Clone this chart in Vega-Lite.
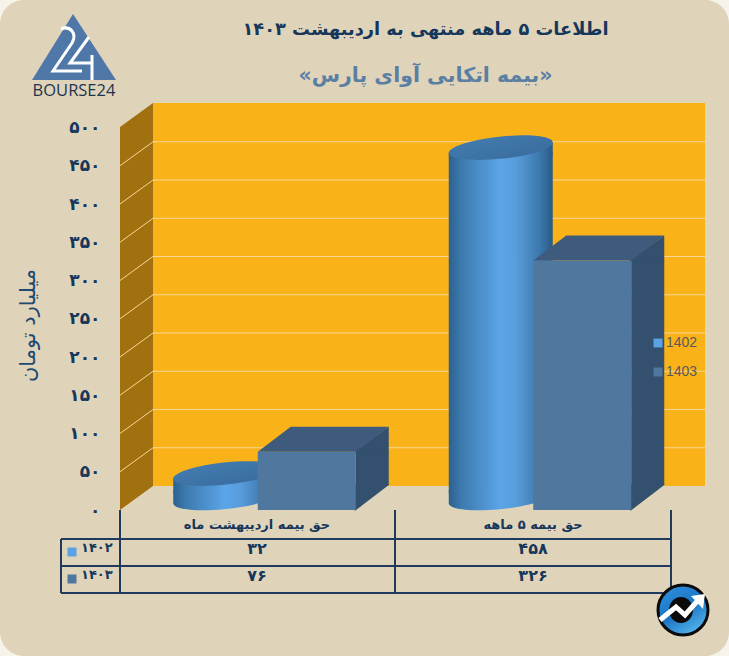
{
"$schema":"https://vega.github.io/schema/vega-lite/v6.json",
"width":729,"height":656,"padding":0,"autosize":{"type":"none"},
"background":"#f6f3ea",
"view":{"fill":"#dfd4ba","stroke":null,"cornerRadius":24},
"title":{"text":"اطلاعات ۵ ماهه منتهی به اردیبهشت ۱۴۰۳","subtitle":"\u200F«بیمه اتکایی آوای پارس»\u200F","anchor":"middle","dx":61,"dy":86,"offset":0,"font":"DejaVu Sans","fontSize":17.8,"fontWeight":"bold","color":"#16375a","subtitleFont":"DejaVu Sans","subtitleFontSize":20.5,"subtitleFontWeight":"bold","subtitleColor":"#5b7fa3","subtitlePadding":27},
"datasets":{
"bars":[
{"category":"حق بیمه اردیبهشت  ماه","series":"1402","value":32,"label":"۳۲"},
{"category":"حق بیمه ۵ ماهه","series":"1402","value":458,"label":"۴۵۸"},
{"category":"حق بیمه اردیبهشت  ماه","series":"1403","value":76,"label":"۷۶"},
{"category":"حق بیمه ۵ ماهه","series":"1403","value":326,"label":"۳۲۶"}],
"ticks":[{"tick":50},{"tick":100},{"tick":150},{"tick":200},{"tick":250},{"tick":300},{"tick":350},{"tick":400},{"tick":450}],
"hlines":[{"row":1,"from":0,"to":3},{"row":2,"from":0,"to":3},{"row":3,"from":0,"to":3}],
"vlines":[{"col":0,"top":1,"bottom":3},{"col":1,"top":0,"bottom":3},{"col":2,"top":0,"bottom":3},{"col":3,"top":0,"bottom":3}],
"rowheads":[{"series":"1402","label":"۱۴۰۲"},{"series":"1403","label":"۱۴۰۳"}]
},
"layer":[
{"data":{"values":[{"base":0}]},
 "encoding":{"x":{"datum":0,"type":"quantitative","scale":{"domain":[0,2],"range":[120,671]},"axis":null},
  "y":{"field":"base","type":"quantitative","scale":{"domain":[0,500],"range":[510,127.5]},
   "axis":{"orient":"left","offset":-120,"values":[0,50,100,150,200,250,300,350,400,450,500],"domain":false,"ticks":false,"grid":false,"labelPadding":20,"labelFont":"DejaVu Sans","labelFontSize":17,"labelFontWeight":"bold","labelColor":"#16375a",
    "labelExpr":"replace(replace(replace(replace(replace(replace(datum.label,/0/g,'۰'),/1/g,'۱'),/2/g,'۲'),/3/g,'۳'),/4/g,'۴'),/5/g,'۵')",
    "title":"میلیارد تومان","titleFont":"DejaVu Sans","titleFontSize":21,"titleFontWeight":"normal","titleColor":"#1f4a70","titleX":-82,"titleY":325,"titleAngle":270}}},
 "layer":[
  {"mark":{"type":"point","filled":true,"opacity":1,"size":4,"fill":"#a2710f","stroke":null,"shape":"M0 0 L33 -24 L33 -407 L0 -383 Z"}},
  {"mark":{"type":"point","filled":true,"opacity":1,"size":4,"fill":"#fab219","stroke":null,"shape":"M33 -24 L585 -24 L585 -407 L33 -407 Z"}}
 ]},
{"data":{"name":"ticks"},
 "mark":{"type":"point","filled":false,"opacity":1,"size":4,"stroke":"#f7d794","strokeWidth":1,"shape":"M0 0 L33 -24 L585 -24"},
 "encoding":{"x":{"datum":0,"type":"quantitative","scale":{"domain":[0,2],"range":[120,671]},"axis":null},
  "y":{"field":"tick","type":"quantitative","scale":{"domain":[0,500],"range":[510,127.5]},"axis":null}}},
{"data":{"name":"bars"},
 "encoding":{"x":{"field":"category","type":"nominal","sort":null,"scale":{"type":"band","domain":["حق بیمه اردیبهشت  ماه","حق بیمه ۵ ماهه"],"range":[120,671],"paddingInner":0,"paddingOuter":0},"axis":null},
  "y":{"field":"value","type":"quantitative","scale":{"domain":[0,500],"range":[510,127.5]},"axis":null}},
 "layer":[
  {"transform":[{"filter":"datum.series==='1402'"}],
   "layer":[
    {"mark":{"type":"point","filled":true,"opacity":1,"size":4,"stroke":null,"xOffset":-32.5,"fill":{"x1":0,"x2":1,"y1":0,"y2":0,"gradient":"linear","stops":[{"offset":0,"color":"#2c618f"},{"offset":0.12,"color":"#3c7aae"},{"offset":0.5,"color":"#5ca5e8"},{"offset":0.65,"color":"#589cdb"},{"offset":0.88,"color":"#3b77ab"},{"offset":1,"color":"#285a86"}]},"shape":"M-52 -7 A52 11 -6 0 0 52 -17 L52 -20 L-52 -20 Z"},
     "encoding":{"y":{"datum":0,"type":"quantitative"}}},
    {"mark":{"type":"bar","width":104,"xOffset":-32.5,"yOffset":-7,"y2Offset":-17,"cornerRadius":0,"color":{"x1":0,"x2":1,"y1":0,"y2":0,"gradient":"linear","stops":[{"offset":0,"color":"#2c618f"},{"offset":0.12,"color":"#3c7aae"},{"offset":0.5,"color":"#5ca5e8"},{"offset":0.65,"color":"#589cdb"},{"offset":0.88,"color":"#3b77ab"},{"offset":1,"color":"#285a86"}]}},
     "encoding":{"y2":{"datum":0}}},
    {"mark":{"type":"point","filled":true,"opacity":1,"size":4,"stroke":null,"xOffset":-32.5,"fill":{"x1":0,"x2":1,"y1":0,"y2":0,"gradient":"linear","stops":[{"offset":0,"color":"#2c618f"},{"offset":0.12,"color":"#3c7aae"},{"offset":0.5,"color":"#5ca5e8"},{"offset":0.65,"color":"#589cdb"},{"offset":0.88,"color":"#3b77ab"},{"offset":1,"color":"#285a86"}]},"shape":"M-52 -7 L52 -17 L52 -5 L-52 -5 Z"}},
    {"mark":{"type":"point","filled":true,"opacity":1,"size":4,"stroke":null,"xOffset":-32.5,"fill":{"x1":0,"x2":1,"y1":0,"y2":1,"gradient":"linear","stops":[{"offset":0,"color":"#447fb4"},{"offset":1,"color":"#39699a"}]},"shape":"M-52 -7 A52 11 -6 0 1 52 -17 A52 11 -6 0 1 -52 -7 Z"}}
   ]},
  {"transform":[{"filter":"datum.series==='1403'"}],
   "layer":[
    {"mark":{"type":"bar","width":33,"xOffset":114.5,"y2Offset":-25,"cornerRadius":0,"color":"#33506e"},"encoding":{"y2":{"datum":0}}},
    {"mark":{"type":"point","filled":true,"opacity":1,"size":4,"fill":"#33506e","stroke":null,"shape":"M95 1 L131 -25 L131 1 Z"}},
    {"mark":{"type":"point","filled":true,"opacity":1,"size":4,"fill":"#33506e","stroke":null,"shape":"M97 1 L131 -25 L131 -26 L97 -26 Z"},"encoding":{"y":{"datum":0,"type":"quantitative"}}},
    {"mark":{"type":"point","filled":true,"opacity":1,"size":4,"fill":"#3e5b7d","stroke":null,"shape":"M0 0 L98 0 L131 -25 L33 -25 Z"}},
    {"mark":{"type":"bar","width":98,"xOffset":49,"cornerRadius":0},
     "encoding":{"y2":{"datum":0},
      "color":{"field":"series","type":"nominal","scale":{"domain":["1402","1403"],"range":["#5aa2e4","#50779e"]},
       "legend":{"orient":"none","legendX":651,"legendY":336,"title":null,"symbolType":"square","symbolSize":80,"symbolStrokeWidth":0,"rowPadding":15,"labelFont":"Liberation Sans","labelFontSize":14,"labelColor":"#5a5a5a","labelOffset":1}}}}
   ]}
 ]},
{"data":{"name":"bars"},
 "mark":{"type":"text","font":"DejaVu Sans","fontWeight":"bold","fontSize":16,"color":"#16375a","align":"center","baseline":"middle"},
 "encoding":{"x":{"field":"category","type":"nominal","scale":{"type":"point","padding":0,"domain":["حق بیمه اردیبهشت  ماه","حق بیمه ۵ ماهه"],"range":[257,533]},"axis":null},
  "y":{"field":"series","type":"nominal","scale":{"type":"point","padding":0,"domain":["1402","1403"],"range":[549,576]},"axis":null},
  "text":{"field":"label"}}},
{"data":{"values":[{"category":"حق بیمه اردیبهشت  ماه"},{"category":"حق بیمه ۵ ماهه"}]},
 "mark":{"type":"text","font":"DejaVu Sans","fontWeight":"bold","fontSize":13,"color":"#16375a","align":"center","baseline":"middle"},
 "encoding":{"x":{"field":"category","type":"nominal","scale":{"type":"point","padding":0,"domain":["حق بیمه اردیبهشت  ماه","حق بیمه ۵ ماهه"],"range":[257,533]},"axis":null},
  "y":{"datum":0,"type":"quantitative","scale":{"domain":[0,1],"range":[525,539]},"axis":null},
  "text":{"field":"category"}}},
{"data":{"name":"rowheads"},
 "mark":{"type":"text","font":"DejaVu Sans","fontWeight":"bold","fontSize":13,"color":"#16375a","align":"left","baseline":"middle"},
 "encoding":{"x":{"datum":0,"type":"quantitative","scale":{"domain":[0,1],"range":[81,118]},"axis":null},
  "y":{"field":"series","type":"nominal","scale":{"type":"point","padding":0,"domain":["1402","1403"],"range":[548,575]},"axis":null},
  "text":{"field":"label"}}},
{"data":{"name":"rowheads"},
 "mark":{"type":"square","size":81,"opacity":1,"yOffset":4},
 "encoding":{"x":{"datum":0,"type":"quantitative","scale":{"domain":[0,1],"range":[72,118]},"axis":null},
  "y":{"field":"series","type":"nominal","scale":{"type":"point","padding":0,"domain":["1402","1403"],"range":[548,575]},"axis":null},
  "color":{"field":"series","type":"nominal","scale":{"domain":["1402","1403"],"range":["#5aa2e4","#50779e"]},"legend":null}}},
{"data":{"name":"hlines"},
 "mark":{"type":"rule","color":"#1f3a5c","strokeWidth":2},
 "encoding":{"x":{"field":"from","type":"quantitative","scale":{"domain":[0,1,2,3],"range":[61,120,395,671]},"axis":null},"x2":{"field":"to"},
  "y":{"field":"row","type":"quantitative","scale":{"domain":[0,1,2,3],"range":[510,539,566,593]},"axis":null}}},
{"data":{"name":"vlines"},
 "mark":{"type":"rule","color":"#1f3a5c","strokeWidth":2},
 "encoding":{"x":{"field":"col","type":"quantitative","scale":{"domain":[0,1,2,3],"range":[61,120,395,671]},"axis":null},
  "y":{"field":"top","type":"quantitative","scale":{"domain":[0,1,2,3],"range":[510,539,566,593]},"axis":null},"y2":{"field":"bottom"}}},
{"data":{"values":[{"item":"logo","slot":0}]},
 "encoding":{"x":{"field":"slot","type":"quantitative","scale":{"domain":[0,1],"range":[73,683]},"axis":null},
  "y":{"field":"slot","type":"quantitative","scale":{"domain":[0,1],"range":[50,610]},"axis":null}},
 "layer":[
  {"mark":{"type":"point","filled":true,"opacity":1,"size":4,"fill":"#4f78a8","stroke":null,"shape":"M0 -36 L43 30 L-41 30 Z"}},
  {"mark":{"type":"point","filled":false,"opacity":1,"size":4,"stroke":"#ffffff","strokeWidth":3,"shape":"M-12 -21 Q-5 -24 -1 -19 Q3 -14 -1 -7 L-20 21 L9 21 M16 -13 L-3 13 L19 13 M19 5 L19 30"}},
  {"mark":{"type":"text","font":"Open Sans","fontSize":16.5,"color":"#1d3450","align":"center","baseline":"middle","xOffset":1,"yOffset":41,"text":"BOURSE24"}}
 ]},
{"data":{"values":[{"item":"badge","slot":1}]},
 "encoding":{"x":{"field":"slot","type":"quantitative","scale":{"domain":[0,1],"range":[73,683]},"axis":null},
  "y":{"field":"slot","type":"quantitative","scale":{"domain":[0,1],"range":[50,610]},"axis":null}},
 "layer":[
  {"mark":{"type":"point","filled":true,"opacity":1,"size":4,"stroke":"#0b0b0b","strokeWidth":3,"fill":{"x1":0.2,"x2":0.8,"y1":0,"y2":1,"gradient":"linear","stops":[{"offset":0,"color":"#2f8fdb"},{"offset":0.5,"color":"#1a75c6"},{"offset":1,"color":"#5dbcf0"}]},"shape":"M-25 0 A25 25 0 1 1 25 0 A25 25 0 1 1 -25 0 Z"}},
  {"mark":{"type":"point","filled":true,"opacity":1,"size":4,"fill":"#0b0b0b","stroke":null,"shape":"M-14 0 A12 13 0 1 1 10 0 A12 13 0 1 1 -14 0 Z"}},
  {"mark":{"type":"point","filled":false,"opacity":1,"size":4,"stroke":"#ffffff","strokeWidth":5,"shape":"M-23 10 L-7 -3 L2 5 L17 -12"}},
  {"mark":{"type":"point","filled":true,"opacity":1,"size":4,"fill":"#ffffff","stroke":null,"shape":"M8 -14 L22 -16 L20 -1 Z"}}
 ]}
],
"resolve":{"scale":{"x":"independent","y":"independent","color":"independent"},"axis":{"y":"independent","x":"independent"}}
}
